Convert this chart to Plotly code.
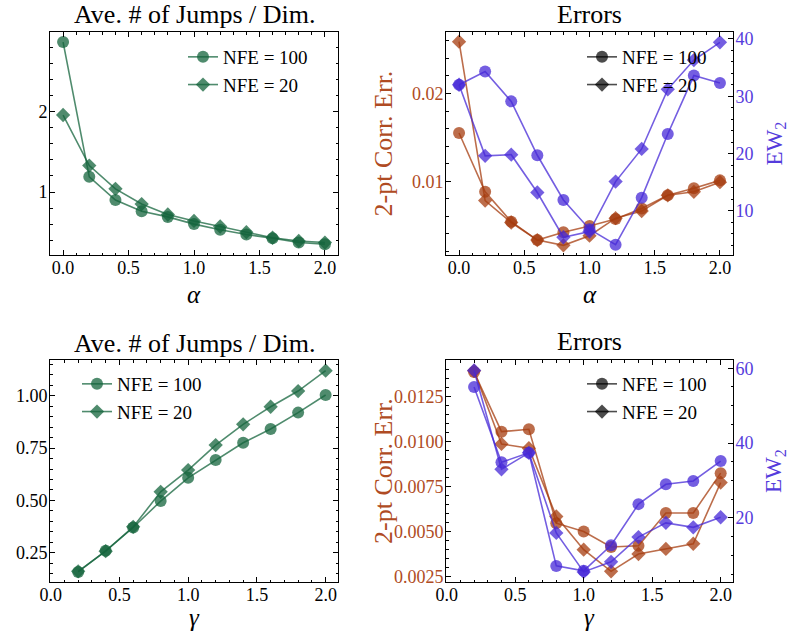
import plotly.graph_objects as go

alpha = [0.0, 0.2, 0.4, 0.6, 0.8, 1.0, 1.2, 1.4, 1.6, 1.8, 2.0]
gamma = [0.2, 0.4, 0.6, 0.8, 1.0, 1.2, 1.4, 1.6, 1.8, 2.0]

jumps_alpha_100 = [2.87, 1.19, 0.90, 0.76, 0.69, 0.60, 0.53, 0.47, 0.425, 0.37, 0.35]
jumps_alpha_20 = [1.96, 1.33, 1.04, 0.85, 0.72, 0.64, 0.57, 0.50, 0.43, 0.39, 0.37]

corr_alpha_100 = [0.0155, 0.0088, 0.0054, 0.0033, 0.0042, 0.0049, 0.0057, 0.0069, 0.0084, 0.0092, 0.0101]
corr_alpha_20 = [0.0259, 0.0078, 0.0053, 0.0033, 0.0027, 0.0038, 0.0058, 0.0066, 0.0084, 0.0088, 0.0099]
ew_alpha_100 = [32.0, 34.3, 29.1, 19.7, 11.9, 6.8, 4.1, 12.3, 23.4, 33.6, 32.3]
ew_alpha_20 = [32.0, 19.6, 19.8, 13.2, 5.4, 6.4, 15.1, 20.8, 31.2, 36.3, 39.4]

jumps_gamma_100 = [0.159, 0.26, 0.371, 0.497, 0.608, 0.693, 0.775, 0.841, 0.919, 1.003]
jumps_gamma_20 = [0.162, 0.258, 0.374, 0.541, 0.645, 0.764, 0.863, 0.947, 1.022, 1.119]

corr_gamma_100 = [0.01385, 0.01055, 0.01068, 0.00548, 0.00502, 0.00416, 0.00423, 0.00604, 0.00604, 0.00825]
corr_gamma_20 = [0.01392, 0.00987, 0.00963, 0.00585, 0.00401, 0.00281, 0.00377, 0.00405, 0.00434, 0.00773]
ew_gamma_100 = [55.0, 34.9, 37.4, 7.2, 5.9, 12.7, 23.7, 29.0, 29.9, 35.2]
ew_gamma_20 = [59.4, 33.0, 37.4, 16.0, 5.6, 8.3, 14.9, 18.7, 17.5, 20.2]

labels = ["NFE = 100", "NFE = 20"]
titles = ["Ave. # of Jumps / Dim.", "Errors", "Ave. # of Jumps / Dim.", "Errors"]

W, H = 788, 638
FONT = "Liberation Serif"
GREEN = "rgba(20,100,60,0.75)"
BROWN = "rgba(165,60,15,0.75)"
BLUE = "rgba(70,40,215,0.75)"
BLACK = "rgba(0,0,0,0.7)"
BROWN_TXT = "rgb(175,75,35)"
BLUE_TXT = "rgb(85,60,220)"

def fx(p):
    return p / W

def fy(p):
    return 1 - p / H

boxes = {
    1: ([50, 338], [32, 255]),
    2: ([446, 733], [32, 255]),
    3: ([50, 338], [360, 582]),
    4: ([446, 733], [360, 582]),
}

fig = go.Figure()
symbols = ["circle", "diamond"]
sizes = [12, 11]

def add(x, y, xa, ya, color, i, legend=None, show=False):
    fig.add_trace(go.Scatter(
        x=x, y=y, xaxis=xa, yaxis=ya, mode="lines+markers",
        name=labels[i], showlegend=show, legend=legend,
        line=dict(color=color, width=1.6),
        marker=dict(symbol=symbols[i], size=sizes[i], color=color, line=dict(width=0)),
    ))

# panel 1
add(alpha, jumps_alpha_100, "x", "y", GREEN, 0, "legend", True)
add(alpha, jumps_alpha_20, "x", "y", GREEN, 1, "legend", True)
# panel 2
add(alpha, corr_alpha_100, "x2", "y2", BROWN, 0)
add(alpha, corr_alpha_20, "x2", "y2", BROWN, 1)
add(alpha, ew_alpha_100, "x2", "y3", BLUE, 0)
add(alpha, ew_alpha_20, "x2", "y3", BLUE, 1)
for i in range(2):
    fig.add_trace(go.Scatter(x=[None], y=[None], xaxis="x2", yaxis="y2", mode="lines+markers",
                             name=labels[i], legend="legend2", showlegend=True,
                             line=dict(color=BLACK, width=1.6),
                             marker=dict(symbol=symbols[i], size=sizes[i], color=BLACK)))
# panel 3
add(gamma, jumps_gamma_100, "x3", "y4", GREEN, 0, "legend3", True)
add(gamma, jumps_gamma_20, "x3", "y4", GREEN, 1, "legend3", True)
# panel 4
add(gamma, corr_gamma_100, "x4", "y5", BROWN, 0)
add(gamma, corr_gamma_20, "x4", "y5", BROWN, 1)
add(gamma, ew_gamma_100, "x4", "y6", BLUE, 0)
add(gamma, ew_gamma_20, "x4", "y6", BLUE, 1)
for i in range(2):
    fig.add_trace(go.Scatter(x=[None], y=[None], xaxis="x4", yaxis="y5", mode="lines+markers",
                             name=labels[i], legend="legend4", showlegend=True,
                             line=dict(color=BLACK, width=1.6),
                             marker=dict(symbol=symbols[i], size=sizes[i], color=BLACK)))

TICK_SIZE = 18
tickfont = dict(family=FONT, size=TICK_SIZE, color="black")

def axis(domain, rng, dtick, mdtick, anchor, mirror="ticks", side=None, overlaying=None, tfont=None, xaxis=False):
    d = dict(domain=domain, range=rng, dtick=dtick, tick0=0, anchor=anchor, automargin=False,
             showline=True, linecolor="black", linewidth=1, mirror=mirror,
             ticks="inside", ticklen=5, tickwidth=1, tickcolor="black",
             showgrid=False, zeroline=False, tickfont=tfont or tickfont,
             ticklabelstandoff=-4 if xaxis else -2,
             minor=dict(ticks="inside", ticklen=2.5, dtick=mdtick, tick0=0, tickcolor="black", showgrid=False))
    if side:
        d["side"] = side
    if overlaying:
        d["overlaying"] = overlaying
    return d

def dom(k):
    (x0, x1), (y0, y1) = boxes[k]
    return [fx(x0), fx(x1)], [fy(y1), fy(y0)]

d1x, d1y = dom(1)
d2x, d2y = dom(2)
d3x, d3y = dom(3)
d4x, d4y = dom(4)

brown_font = dict(family=FONT, size=TICK_SIZE, color=BROWN_TXT)
blue_font = dict(family=FONT, size=TICK_SIZE, color=BLUE_TXT)

fig.update_layout(
    xaxis=dict(**axis(d1x, [-0.1, 2.1], 0.5, 0.1, "y", xaxis=True), tickformat=".1f"),
    yaxis=axis(d1y, [0.215, 2.995], 1, 0.2, "x"),
    xaxis2=dict(**axis(d2x, [-0.1, 2.1], 0.5, 0.1, "y2", xaxis=True), tickformat=".1f"),
    yaxis2=axis(d2y, [0.0016, 0.0270], 0.01, 0.002, "x2", mirror=False, tfont=brown_font),
    yaxis3=axis(d2y, [2.3, 41.2], 10, 2, "x2", mirror=False, side="right", overlaying="y2", tfont=blue_font),
    xaxis3=dict(**axis(d3x, [-0.005, 2.09], 0.5, 0.1, "y4", xaxis=True), tickformat=".1f"),
    yaxis4=dict(**axis(d3y, [0.111, 1.17], 0.25, 0.05, "x3"), tickformat=".2f"),
    xaxis4=dict(**axis(d4x, [-0.005, 2.09], 0.5, 0.1, "y5", xaxis=True), tickformat=".1f"),
    yaxis5=dict(**axis(d4y, [0.00222, 0.01452], 0.0025, 0.0005, "x4", mirror=False, tfont=brown_font),
                tickformat=".4f"),
    yaxis6=axis(d4y, [2.9, 62.2], 20, 5, "x4", mirror=False, side="right", overlaying="y5", tfont=blue_font),
)

legfont = dict(family=FONT, size=19, color="black")
def leg(xp, yp):
    return dict(x=fx(xp), y=fy(yp), xanchor="left", yanchor="top", bgcolor="rgba(0,0,0,0)",
                font=legfont, tracegroupgap=0, itemwidth=30, borderwidth=0)

fig.update_layout(
    legend=leg(183, 38),
    legend2=leg(582, 38),
    legend3=leg(77, 365),
    legend4=leg(582, 365),
)

ann = []
centers = [(194, 15), (589.5, 15), (194, 343), (589.5, 341)]
for t, (cx, cy) in zip(titles, centers):
    ann.append(dict(text=t, x=fx(cx), y=fy(cy), xref="paper", yref="paper", showarrow=False,
                    xanchor="center", yanchor="middle", font=dict(family=FONT, size=26, color="black")))
for t, (cx, cy) in [("<i>α</i>", (194, 294)), ("<i>α</i>", (589.5, 294)),
                     ("<i>γ</i>", (194, 617)), ("<i>γ</i>", (589.5, 617))]:
    ann.append(dict(text=t, x=fx(cx), y=fy(cy), xref="paper", yref="paper", showarrow=False,
                    xanchor="center", yanchor="middle", font=dict(family=FONT, size=25, color="black")))
for cy in (143.5, 471):
    ann.append(dict(text="2-pt Corr. Err.", x=fx(383), y=fy(cy), xref="paper", yref="paper",
                    showarrow=False, textangle=-90, xanchor="center", yanchor="middle", borderpad=0,
                    font=dict(family=FONT, size=26, color=BROWN_TXT)))
    ann.append(dict(text="EW<sub>2</sub>", x=fx(775), y=fy(cy), xref="paper", yref="paper",
                    showarrow=False, textangle=-90, xanchor="center", yanchor="middle", borderpad=0,
                    font=dict(family=FONT, size=23, color=BLUE_TXT)))

fig.update_layout(
    annotations=ann,
    width=W, height=H,
    margin=dict(l=0, r=0, t=0, b=0),
    paper_bgcolor="white", plot_bgcolor="white",
    font=dict(family=FONT, size=16, color="black"),
)

fig.write_html("out.html", config={"displayModeBar": False},
               post_script="document.body.style.margin='0';document.body.style.padding='0';")
